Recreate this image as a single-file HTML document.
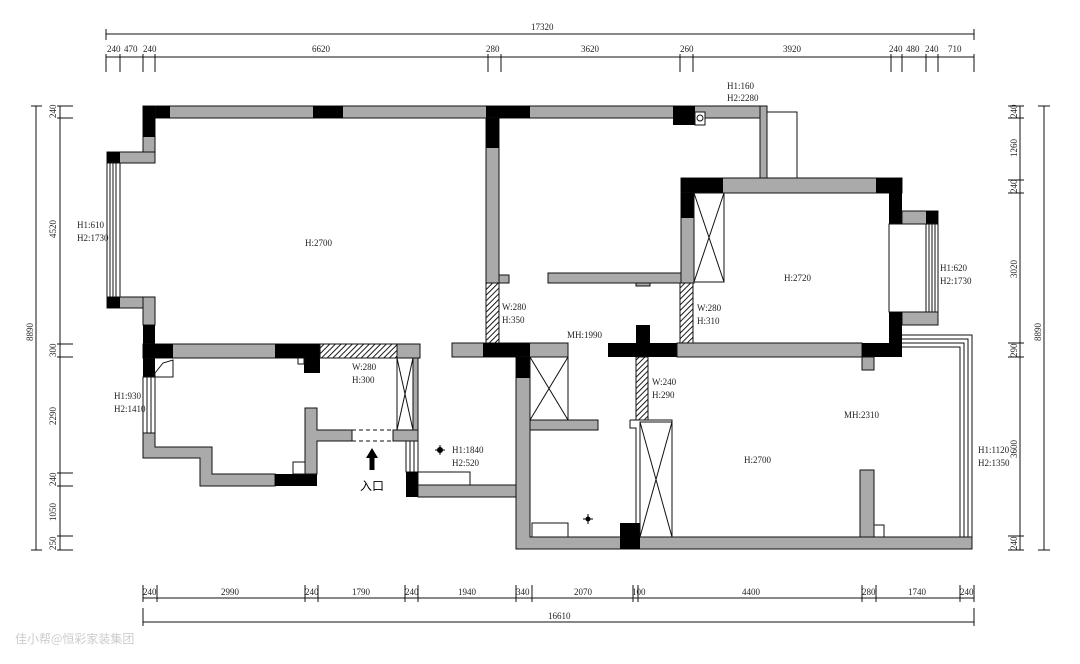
<!DOCTYPE html>
<html><head><meta charset="utf-8"><style>
html,body{margin:0;padding:0;background:#fff;width:1080px;height:664px;overflow:hidden}
svg{display:block}
text{font-family:"Liberation Serif","Noto Serif CJK SC",serif;font-size:9px;fill:#222}
.g{fill:#aaa;stroke:#111;stroke-width:1}
.b{fill:#000}
.l{stroke:#111;stroke-width:1;fill:none}
.w{fill:#fff;stroke:#111;stroke-width:1}
</style></head><body>
<svg width="1080" height="664" viewBox="0 0 1080 664" xmlns="http://www.w3.org/2000/svg">
<defs>
<pattern id="h" width="4" height="4" patternUnits="userSpaceOnUse" patternTransform="rotate(45)">
<rect width="4" height="4" fill="#fff"/><line x1="0" y1="0" x2="0" y2="4" stroke="#000" stroke-width="1.8"/></pattern>
</defs>

<!-- top dims -->
<g class="l">
<line x1="106" y1="34" x2="974" y2="34"/><line x1="106" y1="29" x2="106" y2="40"/><line x1="974" y1="29" x2="974" y2="40"/>
<line x1="106" y1="57" x2="974" y2="57"/>
<path d="M106 54V72M120 54V72M143 54V72M155 54V72M488 54V72M501 54V72M680 54V72M693 54V72M891 54V72M902 54V72M926 54V72M938 54V72M974 54V72"/>
<line x1="143" y1="598" x2="974" y2="598"/>
<path d="M143 585V602M157 585V602M305 585V602M318 585V602M405 585V602M418 585V602M516 585V602M532 585V602M633 585V602M638 585V602M862 585V602M876 585V602M960 585V602M974 585V602"/>
<line x1="143" y1="622" x2="974" y2="622"/><line x1="143" y1="608" x2="143" y2="626"/><line x1="974" y1="608" x2="974" y2="626"/>
<line x1="36" y1="106" x2="36" y2="550"/><path d="M31 106H42M31 550H42"/>
<line x1="60" y1="106" x2="60" y2="550"/>
<path d="M57 106H73M57 118H73M57 344H73M57 357H73M57 473H73M57 486H73M57 536H73M57 550H73"/>
<line x1="1044" y1="106" x2="1044" y2="550"/><path d="M1038 106H1050M1038 550H1050"/>
<line x1="1020" y1="106" x2="1020" y2="550"/>
<path d="M1008 106H1024M1008 118H1024M1008 180H1024M1008 193H1024M1008 343H1024M1008 357H1024M1008 536H1024M1008 550H1024"/>
</g>
<text x="531" y="30">17320</text>
<g>
<text x="107" y="52">240</text><text x="124" y="52">470</text><text x="143" y="52">240</text><text x="312" y="52">6620</text>
<text x="486" y="52">280</text><text x="581" y="52">3620</text><text x="680" y="52">260</text><text x="783" y="52">3920</text>
<text x="889" y="52">240</text><text x="906" y="52">480</text><text x="925" y="52">240</text><text x="948" y="52">710</text>
<text x="143" y="595">240</text><text x="221" y="595">2990</text><text x="305" y="595">240</text><text x="352" y="595">1790</text>
<text x="405" y="595">240</text><text x="458" y="595">1940</text><text x="516" y="595">340</text><text x="574" y="595">2070</text>
<text x="632" y="595">100</text><text x="742" y="595">4400</text><text x="862" y="595">280</text><text x="908" y="595">1740</text><text x="960" y="595">240</text>
<text x="548" y="619">16610</text>
</g>
<g>
<text transform="translate(56,118) rotate(-90)">240</text>
<text transform="translate(56,238) rotate(-90)">4520</text>
<text transform="translate(56,357) rotate(-90)">300</text>
<text transform="translate(56,425) rotate(-90)">2290</text>
<text transform="translate(56,486) rotate(-90)">240</text>
<text transform="translate(56,521) rotate(-90)">1050</text>
<text transform="translate(56,550) rotate(-90)">250</text>
<text transform="translate(33,341) rotate(-90)">8890</text>
<text transform="translate(1017,118) rotate(-90)">240</text>
<text transform="translate(1017,157) rotate(-90)">1260</text>
<text transform="translate(1017,193) rotate(-90)">240</text>
<text transform="translate(1017,278) rotate(-90)">3020</text>
<text transform="translate(1017,357) rotate(-90)">290</text>
<text transform="translate(1017,458) rotate(-90)">3600</text>
<text transform="translate(1017,550) rotate(-90)">240</text>
<text transform="translate(1041,341) rotate(-90)">8890</text>
</g>

<rect class="g" x="143" y="106" width="622" height="12"/>
<rect class="b" x="143" y="106" width="27" height="12"/>
<rect class="b" x="313" y="106" width="30" height="12"/>
<rect class="b" x="486" y="106" width="44" height="12"/>
<rect class="b" x="673" y="106" width="22" height="19"/>
<rect class="w" x="695" y="112" width="10" height="13"/><circle cx="700" cy="118" r="3" class="l"/>
<rect class="g" x="760" y="106" width="7" height="74"/>
<rect class="w" x="767" y="112" width="30" height="68" style="fill:none"/>
<rect class="g" x="143" y="106" width="12" height="57"/>
<rect class="b" x="143" y="106" width="12" height="31"/>
<rect class="g" x="107" y="152" width="48" height="11"/><rect class="b" x="107" y="152" width="13" height="11"/>
<rect class="w" x="107" y="163" width="13" height="134"/>
<path class="l" d="M110 163V297M113 163V297M116 163V297M120 163V297M120 163H155M120 297H155"/>
<rect class="g" x="107" y="297" width="48" height="11"/><rect class="b" x="107" y="297" width="13" height="11"/>
<rect class="g" x="143" y="297" width="12" height="28"/>
<rect class="b" x="143" y="325" width="12" height="52"/>
<rect class="g" x="143" y="344" width="177" height="14"/>
<rect class="b" x="143" y="344" width="30" height="14"/>
<rect class="b" x="275" y="344" width="45" height="14"/>
<rect class="b" x="304" y="358" width="16" height="15"/>
<rect class="w" x="298" y="358" width="6" height="6"/>
<rect x="320" y="344" width="77" height="14" fill="url(#h)" stroke="#111"/>
<rect class="g" x="397" y="344" width="23" height="14"/>
<path class="l" d="M155 373L163 363L173 360V377H155Z"/>
<rect class="w" x="143" y="377" width="12" height="56"/><path class="l" d="M147 377V433M151 377V433"/>
<path class="g" d="M143 433H155V447H212V474H275V486H200V458H143Z"/>
<rect class="b" x="275" y="474" width="42" height="12"/>
<path class="g" d="M305 408H317V430H352V441H317V474H305Z"/>
<rect class="w" x="293" y="462" width="12" height="12"/>
<path d="M352 430H393M352 441H393" stroke="#111" stroke-dasharray="4,3"/>
<rect class="g" x="393" y="430" width="25" height="11"/>
<rect class="g" x="413" y="358" width="5" height="72"/>
<rect class="w" x="397" y="358" width="16" height="72"/><path class="l" d="M397 358L413 430M413 358L397 430"/>
<rect class="w" x="406" y="441" width="12" height="31"/><path class="l" d="M410 441V472M414 441V472"/>
<rect class="b" x="406" y="472" width="12" height="25"/>
<rect class="w" x="418" y="472" width="52" height="13"/>
<rect class="g" x="418" y="485" width="98" height="12"/>
<path d="M372 448L366 458H369.5V470H374.5V458H378Z" fill="#000"/>
<text x="360" y="490" style="font-size:12px;font-family:'Noto Sans CJK SC',sans-serif;fill:#000">入口</text>

<rect class="g" x="486" y="118" width="13" height="165"/>
<rect class="b" x="486" y="118" width="13" height="30"/>
<rect class="g" x="499" y="275" width="10" height="8"/>
<rect x="486" y="283" width="13" height="61" fill="url(#h)" stroke="#111"/>
<rect class="g" x="548" y="273" width="146" height="10"/>
<rect class="g" x="636" y="283" width="14" height="3"/>
<rect class="g" x="681" y="178" width="221" height="15"/>
<rect class="b" x="681" y="178" width="42" height="15"/>
<rect class="b" x="876" y="178" width="26" height="15"/>
<rect class="g" x="681" y="193" width="13" height="90"/>
<rect class="b" x="681" y="193" width="13" height="25"/>
<rect class="w" x="694" y="193" width="30" height="89"/><path class="l" d="M694 193L724 282M724 193L694 282"/>
<rect class="b" x="889" y="178" width="13" height="46"/>
<rect class="w" x="889" y="224" width="37" height="88"/>
<rect class="g" x="902" y="211" width="36" height="13"/><rect class="b" x="926" y="211" width="12" height="13"/>
<rect class="w" x="926" y="224" width="12" height="88"/><path class="l" d="M929 224V312M932 224V312M935 224V312"/>
<rect class="g" x="902" y="312" width="36" height="13"/>
<rect class="b" x="889" y="312" width="13" height="45"/>
<rect x="680" y="283" width="13" height="60" fill="url(#h)" stroke="#111"/>
<rect class="g" x="452" y="343" width="116" height="14"/>
<rect class="b" x="483" y="343" width="47" height="14"/>
<rect class="b" x="608" y="343" width="69" height="14"/>
<rect class="b" x="636" y="325" width="14" height="18"/>
<rect class="g" x="677" y="343" width="185" height="14"/>
<rect class="b" x="862" y="343" width="40" height="14"/>
<rect class="g" x="862" y="357" width="12" height="13"/>
<!-- bathroom -->
<path class="g" d="M516 357H530V537H972V549H516Z"/>
<rect class="b" x="516" y="357" width="14" height="21"/>
<rect class="w" x="530" y="357" width="38" height="63"/><path class="l" d="M530 357L568 420M568 357L530 420"/>
<rect class="g" x="530" y="420" width="68" height="10"/>
<rect class="w" x="532" y="523" width="36" height="14"/>
<rect class="b" x="620" y="523" width="20" height="26"/>
<rect x="636" y="357" width="12" height="63" fill="url(#h)" stroke="#111"/>
<path class="l" d="M630 420H672V537M630 420V428H636V523"/>
<rect class="w" x="640" y="422" width="32" height="115"/><path class="l" d="M640 422L672 537M672 422L640 537"/>
<rect class="g" x="860" y="470" width="14" height="67"/>
<rect class="w" x="874" y="525" width="10" height="12"/>
<path class="l" d="M902 335H972V537M902 339H968V537M902 343H964V537M902 347H960V537"/>

<g fill="#000"><circle cx="440" cy="450" r="3"/><path d="M440 445V455M435 450H445" stroke="#000" stroke-width="1"/>
<circle cx="588" cy="519" r="2.5"/><path d="M588 514V524M583 519H593" stroke="#000" stroke-width="1"/></g>

<text x="727" y="89">H1:160</text><text x="727" y="101">H2:2280</text>
<text x="77" y="228">H1:610</text><text x="77" y="241">H2:1730</text>
<text x="305" y="246">H:2700</text>
<text x="502" y="310">W:280</text><text x="502" y="323">H:350</text>
<text x="567" y="338">MH:1990</text>
<text x="697" y="311">W:280</text><text x="697" y="324">H:310</text>
<text x="784" y="281">H:2720</text>
<text x="940" y="271">H1:620</text><text x="940" y="284">H2:1730</text>
<text x="352" y="370">W:280</text><text x="352" y="383">H:300</text>
<text x="114" y="399">H1:930</text><text x="114" y="412">H2:1410</text>
<text x="652" y="385">W:240</text><text x="652" y="398">H:290</text>
<text x="844" y="418">MH:2310</text>
<text x="452" y="453">H1:1840</text><text x="452" y="466">H2:520</text>
<text x="744" y="463">H:2700</text>
<text x="978" y="453">H1:1120</text><text x="978" y="466">H2:1350</text>
<text x="15" y="643" style="font-size:12px;fill:#ccc;font-family:'Noto Sans CJK SC',sans-serif">佳小帮@恒彩家装集团</text>
</svg>
</body></html>
